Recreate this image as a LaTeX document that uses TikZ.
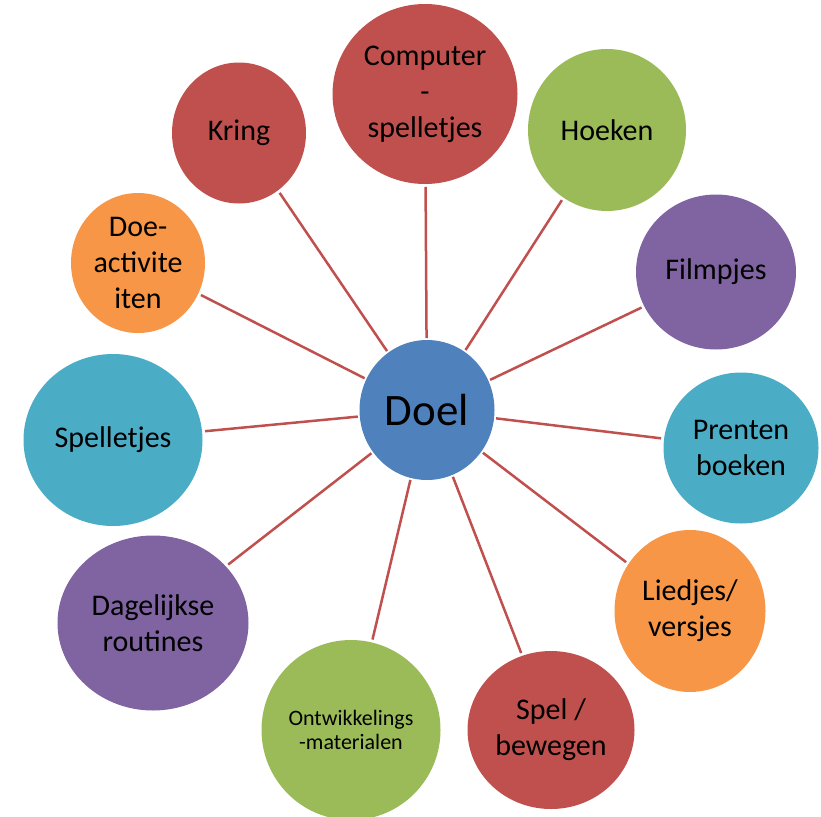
\documentclass[tikz,border=0pt]{standalone}
\usepackage{fontspec}
\setmainfont{Carlito}
\usetikzlibrary{shapes.geometric}
\definecolor{rood}{HTML}{C0504D}
\definecolor{groen}{HTML}{9BBB59}
\definecolor{paars}{HTML}{8064A2}
\definecolor{turkoois}{HTML}{4BACC6}
\definecolor{oranje}{HTML}{F79646}
\definecolor{blauw}{HTML}{4F81BD}
\tikzset{
    bol/.style={ellipse, inner sep=0pt, outer sep=0pt},
    tekst/.style={font=\fontsize{30}{36}\selectfont, align=center, inner sep=0pt},
    lijn/.style={draw=rood, line width=2.5pt, shorten <=2pt, shorten >=3pt}
}
\begin{document}
\begin{tikzpicture}[x=1pt, y=-1pt]
    \useasboundingbox (0,0) rectangle (821,816);
    \node[bol, fill=blauw, minimum width=135pt, minimum height=140pt, label={[tekst, font=\fontsize{45}{54}\selectfont]center:Doel}] (doel) at (427,410) {};
    \node[bol, fill=rood, minimum width=185pt, minimum height=180pt, label={[tekst]center:Computer\\-\\spelletjes}] (computer) at (425,94) {};
    \node[bol, fill=groen, minimum width=158pt, minimum height=162pt, label={[tekst]center:Hoeken}] (hoeken) at (607,130) {};
    \node[bol, fill=paars, minimum width=160pt, minimum height=155pt, label={[tekst]center:Filmpjes}] (filmpjes) at (716,272) {};
    \node[bol, fill=turkoois, minimum width=155pt, minimum height=151pt, label={[tekst]center:Prenten\\boeken}] (prenten) at (741,448) {};
    \node[bol, fill=oranje, minimum width=151pt, minimum height=162pt, label={[tekst]center:Liedjes/\\versjes}] (liedjes) at (690,611) {};
    \node[bol, fill=rood, minimum width=167pt, minimum height=158pt, label={[tekst]center:Spel /\\bewegen}] (spel) at (551,730) {};
    \node[bol, fill=groen, minimum width=179pt, minimum height=180pt, label={[tekst, font=\fontsize{22}{24}\selectfont]center:Ontwikkelings\\-materialen}] (materialen) at (351,730) {};
    \node[bol, fill=paars, minimum width=191pt, minimum height=175pt, label={[tekst]center:Dagelijkse\\routines}] (routines) at (153,623) {};
    \node[bol, fill=turkoois, minimum width=179pt, minimum height=172pt, label={[tekst]center:Spelletjes}] (spelletjes) at (113,440) {};
    \node[bol, fill=oranje, minimum width=134pt, minimum height=140pt, label={[tekst]center:Doe-\\activite\\iten}] (doe) at (138,263) {};
    \node[bol, fill=rood, minimum width=134pt, minimum height=141pt, label={[tekst]center:Kring}] (kring) at (239,133) {};
    \foreach \n in {computer, hoeken, filmpjes, prenten, liedjes, spel, materialen, routines, spelletjes, doe, kring}
        \draw[lijn] (doel) -- (\n);
\end{tikzpicture}
\end{document}
